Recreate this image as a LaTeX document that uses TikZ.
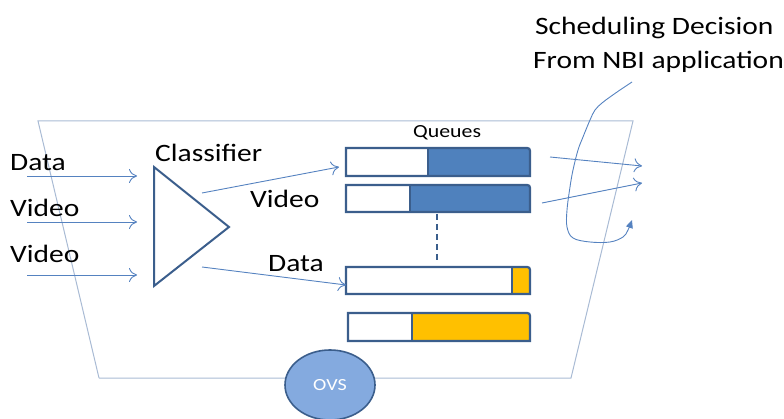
\documentclass[tikz,border=0pt]{standalone}
\usepackage{fontspec}
\setmainfont{Carlito}
\usetikzlibrary{arrows.meta,shapes.geometric}
\definecolor{trap}{HTML}{A9BBD4}
\definecolor{arr}{HTML}{5582C0}
\definecolor{qblue}{HTML}{4F81BD}
\definecolor{qedge}{HTML}{3B5E8C}
\definecolor{qyel}{HTML}{FFC000}
\definecolor{ovsfill}{HTML}{84AADF}
\newcommand\wide[1]{\scalebox{1.18}[1]{#1}}
\tikzset{
  trapline/.style={draw=trap, line width=1pt},
  flow/.style={draw=arr, line width=0.9pt, -{To[length=8pt,width=14pt]}},
  lbl/.style={font=\fontsize{25}{28}\selectfont, anchor=base west, inner sep=0pt},
  qedgestyle/.style={draw=qedge, line width=2.2pt},
}
\newcommand\myqueue[6]{% x1 y1 x2 y2 xdiv colour
  \fill[white] (#1,#2) rectangle (#3,#4);
  \fill[#6] (#5,#4) -- (#5,#2) -- ({#3-6},#2) .. controls (#3,#2) .. (#3,{#2+6}) -- (#3,#4) -- cycle;
  \draw[qedgestyle] (#5,#2) -- (#5,#4);
  \draw[qedgestyle] (#1,#4) -- (#1,#2) -- ({#3-6},#2) .. controls (#3,#2) .. (#3,{#2+6}) -- (#3,#4) -- cycle;
}
\begin{document}
\begin{tikzpicture}[x=1pt,y=-1pt]
\useasboundingbox (0,0) rectangle (784,419);
% switch outline
\coordinate (tl) at (38,121);
\coordinate (tr) at (633,121);
\coordinate (br) at (571,378);
\coordinate (bl) at (99,378);
\draw[trapline] (bl) -- (tl) -- (tr) -- (br) -- (bl);
% OVS
\node[ellipse, draw=qedge, line width=1.6pt, fill=ovsfill, minimum width=90pt, minimum height=70pt, inner sep=0pt,
      text=white, font=\fontsize{17}{19}\selectfont] (ovs) at (330,385) {\wide{OVS}};
% classifier triangle
\coordinate (c1) at (154,167);
\coordinate (c2) at (154,286);
\coordinate (c3) at (229,227);
\draw[draw=qedge, line width=2pt, line join=miter, fill=white] (c1) -- (c3) -- (c2) -- cycle;
% input labels & arrows
\node[lbl] (ldata) at (10,171) {\wide{Data}};
\node[lbl] (lvid1) at (10,217) {\wide{Video}};
\node[lbl] (lvid2) at (10,263) {\wide{Video}};
\coordinate (i1s) at (27,176); \coordinate (i1e) at (137,176);
\coordinate (i2s) at (27,222); \coordinate (i2e) at (137,222);
\coordinate (i3s) at (27,275); \coordinate (i3e) at (137,275);
\draw[flow] (i1s) -- (i1e);
\draw[flow] (i2s) -- (i2e);
\draw[flow] (i3s) -- (i3e);
\node[lbl] (lclass) at (155,162) {\wide{Classifier}};
\node[lbl] (lvidm) at (250,208) {\wide{Video}};
\node[lbl] (ldatam) at (268,272) {\wide{Data}};
% queues
\node[font=\fontsize{18.5}{20}\selectfont, anchor=base west, inner sep=0pt] (lq) at (413,138) {\wide{Queues}};
\myqueue{346}{148}{530}{176}{428}{qblue}
\myqueue{346}{185}{530}{212}{410}{qblue}
\myqueue{346}{267}{530}{294}{512}{qyel}
\myqueue{348}{313}{530}{341}{412}{qyel}
\coordinate (dtop) at (437,214);
\coordinate (dbot) at (437,263);
\draw[draw=qedge, line width=1.6pt, dash pattern=on 6pt off 4pt] (dtop) -- (dbot);
% classifier outputs
\coordinate (o1s) at (202,193); \coordinate (o1e) at (339,167);
\coordinate (o2s) at (202,267); \coordinate (o2e) at (346,285);
\draw[flow] (o1s) -- (o1e);
\draw[flow] (o2s) -- (o2e);
% scheduler outputs
\coordinate (s1s) at (550,157); \coordinate (s1e) at (642,166);
\coordinate (s2s) at (542,203); \coordinate (s2e) at (642,183);
\draw[flow] (s1s) -- (s1e);
\draw[flow] (s2s) -- (s2e);
% scheduling decision
\node[lbl] (sd1) at (535,35) {\wide{Scheduling Decision}};
\node[lbl] (sd2) at (533,69) {\wide{From NBI application}};
\coordinate (fh0) at (632,82);
\coordinate (fh1) at (632,220);
\draw[draw=arr, line width=0.9pt, -{Triangle[length=8pt,width=7pt]}]
  plot[smooth, tension=0.6] coordinates {(fh0) (620,90) (610,97) (602,103) (595,110) (590,120) (583,137) (578,150)
    (573,170) (570,187) (567,210) (567,227) (573,238) (590,242) (610,242) (623,237) (628,230) (fh1)};
\end{tikzpicture}
\end{document}
